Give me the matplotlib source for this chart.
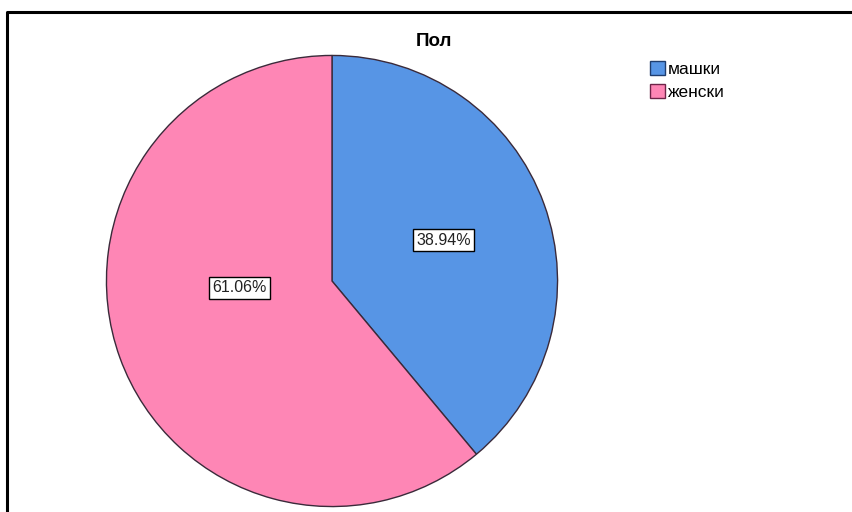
import matplotlib
matplotlib.use("Agg")
import matplotlib.pyplot as plt
from matplotlib.lines import Line2D
from matplotlib.patches import Patch

plt.rcParams['font.family'] = ['Liberation Sans', 'DejaVu Sans']

title = "Пол"
categories = ["машки", "женски"]
values = [38.94, 61.06]
colors = ["#5795E5", "#FE86B5"]
edge_colors = ["#1F3D6E", "#6E2448"]
label_pos = [(0.495, 0.18), (-0.41, -0.03)]

W, H = 852, 512
fig = plt.figure(figsize=(W / 100, H / 100), dpi=100)

cx, cy, r = 332, 281, 226
ax = fig.add_axes([(cx - r) / W, (H - cy - r) / H, 2 * r / W, 2 * r / H])
wedges, _ = ax.pie(values, colors=colors, startangle=90, counterclock=False,
                   radius=1.0, wedgeprops=dict(edgecolor="#3a2a3a", linewidth=1.0))
ax.set_xlim(-1.002, 1.002)
ax.set_ylim(-1.002, 1.002)
ax.set_aspect('equal')
ax.axis('off')

for v, (x, y) in zip(values, label_pos):
    ax.text(x, y, f"{v:.2f}%", ha='center', va='center', fontsize=11.5, color='#222222',
            bbox=dict(boxstyle='square,pad=0.22', fc='white', ec='black', lw=1.0))

fig.text(434 / W, 1 - 41 / H, title, ha='center', va='center', fontsize=13.5,
         fontweight='bold', color='black')

handles = [Patch(facecolor=c, edgecolor=e, linewidth=1.0) for c, e in zip(colors, edge_colors)]
fig.legend(handles, categories, loc='upper left', bbox_to_anchor=(650 / W, 1 - 61 / H),
           frameon=False, fontsize=12.5, handlelength=0.87, handleheight=0.87,
           handletextpad=0.15, labelspacing=0.38, borderpad=0.0, borderaxespad=0.0)

fig.add_artist(Line2D([7 / W, 7 / W, 1.0], [0.0, 1 - 12 / H, 1 - 12 / H],
                      transform=fig.transFigure, color='black', lw=2.2))

fig.savefig("out.png", dpi=100)
